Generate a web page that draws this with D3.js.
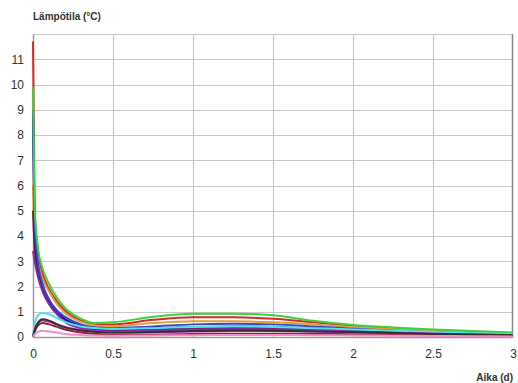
<!DOCTYPE html>
<html>
<head>
<meta charset="utf-8">
<script src="https://cdn.jsdelivr.net/npm/d3@7.9.0/dist/d3.min.js"></script>
<style>
  html, body { margin: 0; padding: 0; background: #fff; }
  svg { display: block; }
  text { font-family: "Liberation Sans", Arial, sans-serif; fill: #333; }
</style>
</head>
<body>
<svg id="chart" width="518" height="383"></svg>
<script>
// time in days
const timeDays = [0, 0.01, 0.03, 0.06, 0.1, 0.15, 0.2, 0.3, 0.4, 0.5, 0.75, 1, 1.25, 1.5, 1.75, 2, 2.25, 2.5, 2.75, 3];

// temperatures (°C), one array per probe
const redSeries     = [11.7, 5.0, 3.4, 2.5, 1.9, 1.4, 1.05, 0.65, 0.5, 0.5, 0.68, 0.78, 0.78, 0.72, 0.58, 0.44, 0.34, 0.26, 0.18, 0.12];
const orangeSeries  = [6.0, 4.0, 3.0, 2.3, 1.8, 1.3, 0.95, 0.6, 0.45, 0.42, 0.55, 0.62, 0.62, 0.58, 0.5, 0.4, 0.32, 0.25, 0.2, 0.15];
const blueSeries    = [9.0, 4.5, 3.0, 2.1, 1.5, 1.05, 0.8, 0.5, 0.38, 0.35, 0.42, 0.5, 0.52, 0.5, 0.42, 0.33, 0.25, 0.18, 0.13, 0.1];
const navySeries    = [8.8, 4.2, 2.8, 1.9, 1.35, 0.95, 0.7, 0.45, 0.35, 0.3, 0.35, 0.4, 0.42, 0.4, 0.35, 0.3, 0.24, 0.18, 0.12, 0.08];
const maroonSeries  = [5.0, 3.6, 2.6, 1.9, 1.4, 1.0, 0.7, 0.4, 0.28, 0.25, 0.3, 0.35, 0.36, 0.34, 0.3, 0.26, 0.2, 0.15, 0.12, 0.08];
const purpleSeries  = [3.4, 3.0, 2.4, 1.8, 1.3, 0.9, 0.6, 0.35, 0.25, 0.22, 0.25, 0.3, 0.32, 0.3, 0.26, 0.22, 0.18, 0.14, 0.1, 0.08];
const greenSeries   = [9.9, 5.2, 3.6, 2.7, 2.1, 1.55, 1.15, 0.72, 0.55, 0.58, 0.8, 0.92, 0.92, 0.86, 0.64, 0.48, 0.38, 0.3, 0.24, 0.18];
const cyanSeries    = [0, 0.5, 0.85, 0.95, 0.9, 0.75, 0.6, 0.42, 0.35, 0.32, 0.35, 0.4, 0.42, 0.4, 0.35, 0.3, 0.25, 0.2, 0.15, 0.12];
const blackSeries   = [0, 0.25, 0.55, 0.7, 0.65, 0.5, 0.38, 0.26, 0.2, 0.18, 0.2, 0.24, 0.26, 0.25, 0.22, 0.2, 0.16, 0.12, 0.1, 0.07];
const magentaSeries = [0, 0.3, 0.55, 0.65, 0.6, 0.5, 0.4, 0.28, 0.22, 0.2, 0.2, 0.22, 0.24, 0.24, 0.22, 0.2, 0.17, 0.14, 0.1, 0.08];
const darkRedSeries = [0, 0.2, 0.45, 0.55, 0.5, 0.4, 0.3, 0.18, 0.12, 0.1, 0.1, 0.12, 0.13, 0.13, 0.12, 0.11, 0.1, 0.08, 0.06, 0.05];
const pinkSeries    = [0, 0.1, 0.2, 0.25, 0.22, 0.18, 0.12, 0.08, 0.06, 0.05, 0.06, 0.07, 0.08, 0.08, 0.07, 0.06, 0.05, 0.04, 0.03, 0.02];

const seriesList = [
  { values: redSeries, color: '#d42a2a' },
  { values: orangeSeries, color: '#e0a030' },
  { values: maroonSeries, color: '#7a1030' },
  { values: navySeries, color: '#1a1a80' },
  { values: blueSeries, color: '#3a46d0' },
  { values: purpleSeries, color: '#8a2ab0' },
  { values: greenSeries, color: '#3ad23a' },
  { values: cyanSeries, color: '#50e0e8' },
  { values: magentaSeries, color: '#d030c8' },
  { values: darkRedSeries, color: '#902040' },
  { values: blackSeries, color: '#303030' },
  { values: pinkSeries, color: '#f08cc8' },
];

const xTicks = [0, 0.5, 1, 1.5, 2, 2.5, 3];
const yTicks = [0, 1, 2, 3, 4, 5, 6, 7, 8, 9, 10, 11];
const xTickLabels = ['0', '0.5', '1', '1.5', '2', '2.5', '3'];

const yTitle = 'Lämpötila (°C)';
const xTitle = 'Aika (d)';

function drawChart() {
  const svg = d3.select('#chart');
  const margin = { left: 33, right: 5, top: 34, bottom: 46 };
  const width = 518, height = 383;

  const x = d3.scaleLinear().domain([0, 3]).range([margin.left, width - margin.right]);
  const y = d3.scaleLinear().domain([0, 12]).range([height - margin.bottom, margin.top]);

  const defs = svg.append('defs');
  defs.append('filter').attr('id', 'soft')
    .append('feGaussianBlur').attr('stdDeviation', 0.6);

  // grid
  const grid = svg.append('g').attr('stroke', '#c8c8c8').attr('stroke-width', 1.2);
  grid.selectAll('line.h')
    .data(yTicks.filter(d => d > 0).concat([12]))
    .join('line')
    .attr('x1', x(0)).attr('x2', x(3))
    .attr('y1', d => Math.round(y(d)) + 0.5).attr('y2', d => Math.round(y(d)) + 0.5);
  grid.selectAll('line.v')
    .data(xTicks.filter(d => d > 0 && d < 3))
    .join('line')
    .attr('class', 'v')
    .attr('y1', y(0)).attr('y2', y(12))
    .attr('x1', d => Math.round(x(d)) + 0.5).attr('x2', d => Math.round(x(d)) + 0.5);

  // right border, darker
  svg.append('line')
    .attr('x1', x(3) - 0.5).attr('x2', x(3) - 0.5)
    .attr('y1', y(0)).attr('y2', y(12))
    .attr('stroke', '#8a8a8a').attr('stroke-width', 1.5);

  // axes
  const xAxis = svg.append('g')
    .attr('transform', `translate(0,${y(0)})`)
    .call(d3.axisBottom(x).tickValues(xTicks).tickFormat((d, i) => xTickLabels[i]).tickSize(0).tickPadding(12));
  xAxis.select('.domain').attr('stroke', '#9a9a9a').attr('stroke-width', 1.5);
  xAxis.selectAll('text').attr('font-size', 12).attr('fill', '#444');

  const yAxis = svg.append('g')
    .attr('transform', `translate(${x(0)},0)`)
    .call(d3.axisLeft(y).tickValues(yTicks).tickSize(0).tickPadding(9));
  yAxis.select('.domain').attr('stroke', '#9a9a9a').attr('stroke-width', 1.5);
  yAxis.selectAll('text').attr('font-size', 12).attr('fill', '#444');

  // lines
  const line = d3.line()
    .x((d, i) => x(timeDays[i]))
    .y(d => y(d))
    .curve(d3.curveMonotoneX);

  svg.append('g')
    .attr('filter', 'url(#soft)')
    .selectAll('path')
    .data(seriesList)
    .join('path')
    .attr('d', d => line(d.values))
    .attr('fill', 'none')
    .attr('stroke', d => d.color)
    .attr('stroke-width', 2);

  // titles
  svg.append('text')
    .attr('x', 33).attr('y', 20)
    .attr('font-size', 10).attr('font-weight', 'bold').attr('fill', '#444')
    .text(yTitle);
  svg.append('text')
    .attr('x', 513).attr('y', 381)
    .attr('text-anchor', 'end')
    .attr('font-size', 10).attr('font-weight', 'bold').attr('fill', '#444')
    .text(xTitle);
}

drawChart();
</script>
</body>
</html>
